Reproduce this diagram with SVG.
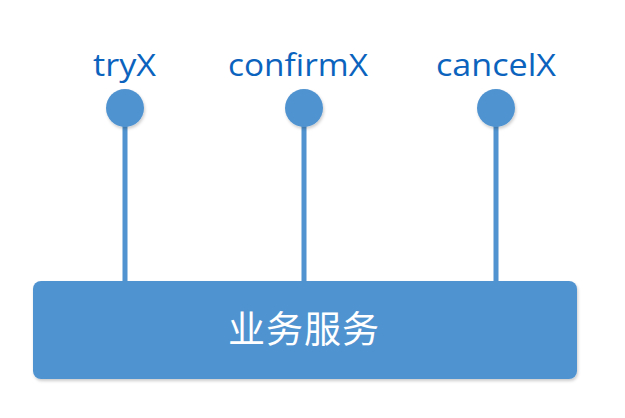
<svg xmlns="http://www.w3.org/2000/svg" width="625" height="418" viewBox="0 0 625 418">
<defs>
<style>
.lbl{font-family:"Open Sans","Liberation Sans",sans-serif;font-size:31px;fill:#0B63BE;}
.cn{font-family:"Noto Sans CJK SC",sans-serif;font-size:37px;fill:#ffffff;letter-spacing:1px;}
.conn{stroke:#5093D0;stroke-width:5;fill:none;}
.dot{fill:#5093D0;}
</style>
<filter id="sh" x="-10%" y="-10%" width="120%" height="130%">
<feDropShadow dx="1" dy="2" stdDeviation="1.5" flood-color="#000" flood-opacity="0.2"/>
</filter>
</defs>
<rect width="625" height="418" fill="#ffffff"/>
<g id="connectors">
<line class="conn" x1="125" y1="120" x2="125" y2="283"/>
<line class="conn" x1="304" y1="120" x2="304" y2="283"/>
<line class="conn" x1="496" y1="120" x2="496" y2="283"/>
</g>
<g id="service">
<rect x="33" y="281" width="544" height="98" rx="8" fill="#5093D0" filter="url(#sh)"/>
<text class="cn" x="304" y="343" text-anchor="middle">业务服务</text>
</g>
<g id="tryX">
<circle class="dot" cx="125" cy="108" r="19" filter="url(#sh)"/>
<text class="lbl" x="93" y="76" textLength="63" lengthAdjust="spacingAndGlyphs">tryX</text>
</g>
<g id="confirmX">
<circle class="dot" cx="304" cy="108" r="19" filter="url(#sh)"/>
<text class="lbl" x="228" y="76" textLength="140" lengthAdjust="spacingAndGlyphs">confirmX</text>
</g>
<g id="cancelX">
<circle class="dot" cx="496" cy="108" r="19" filter="url(#sh)"/>
<text class="lbl" x="436" y="76" textLength="120" lengthAdjust="spacingAndGlyphs">cancelX</text>
</g>
</svg>
